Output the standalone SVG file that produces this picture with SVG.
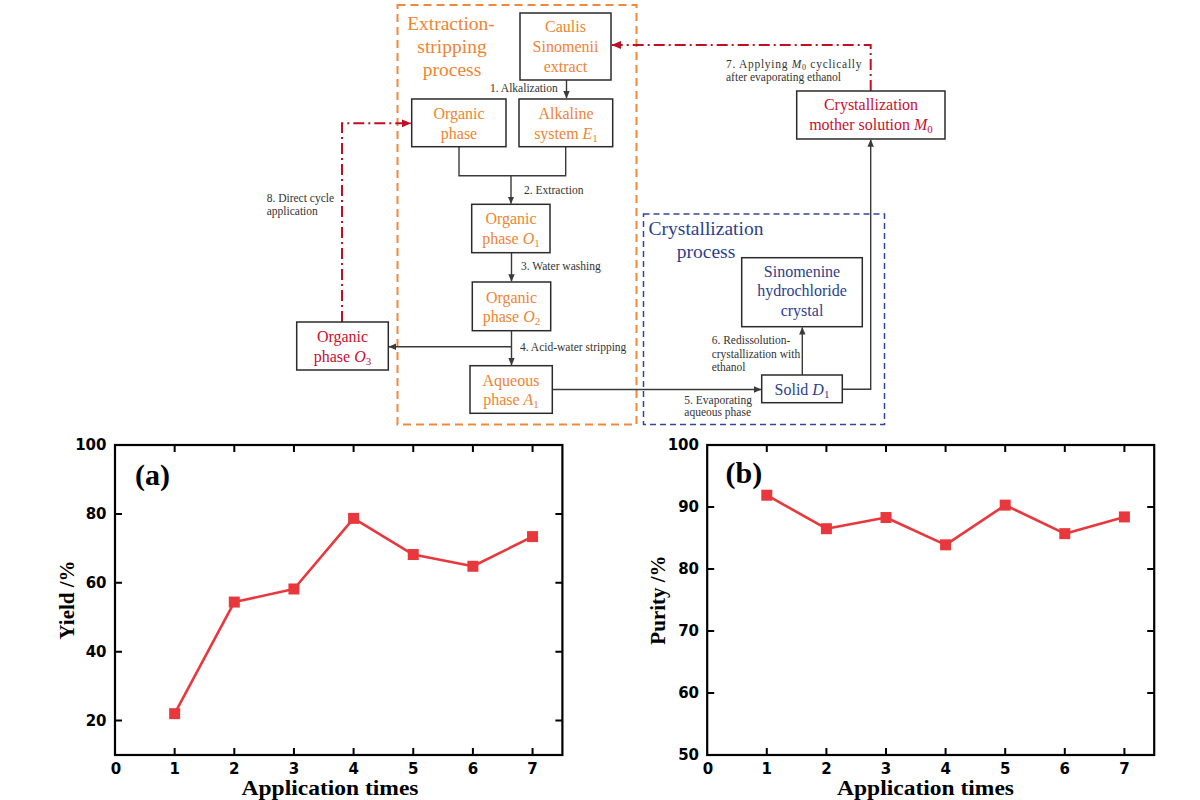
<svg xmlns="http://www.w3.org/2000/svg" width="1200" height="800" viewBox="0 0 1200 800">
<defs>
<style>
.box{fill:#fff;stroke:#2b2b2b;stroke-width:1.5}
.tx{font-family:"Liberation Serif","Times New Roman",serif;font-size:16px;text-anchor:middle}
.or{fill:#ee8433}
.rd{fill:#c8102e}
.bl{fill:#2c3f8c}
.lb{font-family:"Liberation Serif","Times New Roman",serif;font-size:11.5px;fill:#333}
.ttl{font-family:"Liberation Serif","Times New Roman",serif;font-size:19.5px;text-anchor:middle}
.cn{fill:none;stroke:#3a3a3a;stroke-width:1.4}
.rdl{fill:none;stroke:#c00f23;stroke-width:2;stroke-dasharray:11 4 2 4}
.frame{fill:none;stroke:#000;stroke-width:2.2}
.tick{fill:none;stroke:#000;stroke-width:2}
.num{font-family:"DejaVu Sans",Verdana,sans-serif;font-weight:bold;font-size:15px;fill:#000}
.axl{font-family:"Liberation Serif","Times New Roman",serif;font-weight:bold;font-size:21px;fill:#000;text-anchor:middle}
.pl{fill:none;stroke:#e8383d;stroke-width:2.6;stroke-linejoin:round}
.mk{fill:#e8383d}
</style>
<marker id="ah" markerWidth="8" markerHeight="8" refX="7" refY="4" orient="auto" markerUnits="userSpaceOnUse">
<path d="M0,0.8 L7.5,4 L0,7.2 Z" fill="#3a3a3a"/>
</marker>
<marker id="ahr" markerWidth="10" markerHeight="10" refX="9" refY="5" orient="auto" markerUnits="userSpaceOnUse">
<path d="M0,1 L9.5,5 L0,9 Z" fill="#c00f23"/>
</marker>
</defs>
<rect width="1200" height="800" fill="#fff"/>

<!-- process frames -->
<g id="extraction-frame">
<rect x="397.5" y="5" width="239" height="419.5" fill="none" stroke="#ef8a3c" stroke-width="2" stroke-dasharray="8 5"/>
<text class="ttl or" x="451"><tspan x="451" y="30">Extraction-</tspan><tspan x="452" y="53">stripping</tspan><tspan x="452" y="76">process</tspan></text>
</g>
<g id="crystallization-frame">
<rect x="643.5" y="214" width="241" height="210.5" fill="none" stroke="#34449a" stroke-width="1.5" stroke-dasharray="6 4"/>
<text class="ttl bl" x="706"><tspan x="706" y="235">Crystallization</tspan><tspan x="706" y="258">process</tspan></text>
</g>

<!-- connectors -->
<g id="connectors">
<path class="cn" d="M566.5,80 V98" marker-end="url(#ah)"/>
<path class="cn" d="M459,146.7 V175.7 H565.7 V146.7"/>
<path class="cn" d="M511,175.7 V203.5" marker-end="url(#ah)"/>
<path class="cn" d="M511.5,252.7 V281.2" marker-end="url(#ah)"/>
<path class="cn" d="M511.5,330.7 V365" marker-end="url(#ah)"/>
<path class="cn" d="M511.5,346.7 H389" marker-end="url(#ah)"/>
<path class="cn" d="M552.3,389.5 H761" marker-end="url(#ah)"/>
<path class="cn" d="M802.3,375 V327.5" marker-end="url(#ah)"/>
<path class="cn" d="M842.3,389.3 H870.7 V139.8" marker-end="url(#ah)"/>
<path class="rdl" d="M870.7,91 V45 H612" marker-end="url(#ahr)"/>
<path class="rdl" d="M342,322 V123.3 H410.8" marker-end="url(#ahr)"/>
<text class="lb" x="490" y="92">1. Alkalization</text>
<text class="lb" x="524" y="194">2. Extraction</text>
<text class="lb" x="521" y="270">3. Water washing</text>
<text class="lb" x="520" y="351">4. Acid-water stripping</text>
<text class="lb"><tspan x="684.3" y="403.5">5. Evaporating</tspan><tspan x="684.3" y="416">aqueous phase</tspan></text>
<text class="lb"><tspan x="711.7" y="344">6. Redissolution-</tspan><tspan x="711.7" y="357.5">crystallization with</tspan><tspan x="711.7" y="371">ethanol</tspan></text>
<text class="lb"><tspan x="726" y="67.5" textLength="135.5" lengthAdjust="spacing">7. Applying <tspan font-style="italic">M</tspan><tspan font-size="8" dy="2.5">0</tspan><tspan dy="-2.5"> cyclically</tspan></tspan><tspan x="726" y="81">after evaporating ethanol</tspan></text>
<text class="lb"><tspan x="266.7" y="202">8. Direct cycle</tspan><tspan x="266.7" y="214.5">application</tspan></text>
</g>

<!-- nodes -->
<g id="caulis">
<rect class="box" x="520" y="13" width="91" height="67"/>
<text class="tx or"><tspan x="565.5" y="32">Caulis</tspan><tspan x="565.5" y="52">Sinomenii</tspan><tspan x="565.5" y="72">extract</tspan></text>
</g>
<g id="organic-phase">
<rect class="box" x="411.7" y="99" width="94.3" height="47.7"/>
<text class="tx or"><tspan x="459" y="119">Organic</tspan><tspan x="459" y="138.5">phase</tspan></text>
</g>
<g id="alkaline">
<rect class="box" x="519" y="99" width="93.7" height="47.7"/>
<text class="tx or"><tspan x="566" y="119">Alkaline</tspan><tspan x="566" y="138.5">system <tspan font-style="italic">E</tspan><tspan font-size="11" dy="3">1</tspan></tspan></text>
</g>
<g id="organic-o1">
<rect class="box" x="471.7" y="204.3" width="78.3" height="48.4"/>
<text class="tx or"><tspan x="511" y="224">Organic</tspan><tspan x="511" y="244">phase <tspan font-style="italic">O</tspan><tspan font-size="11" dy="3">1</tspan></tspan></text>
</g>
<g id="organic-o2">
<rect class="box" x="472.3" y="282" width="78.4" height="48.7"/>
<text class="tx or"><tspan x="511.5" y="302.5">Organic</tspan><tspan x="511.5" y="322">phase <tspan font-style="italic">O</tspan><tspan font-size="11" dy="3">2</tspan></tspan></text>
</g>
<g id="aqueous-a1">
<rect class="box" x="470" y="365.7" width="82.3" height="47.6"/>
<text class="tx or"><tspan x="511" y="385.5">Aqueous</tspan><tspan x="511" y="405">phase <tspan font-style="italic">A</tspan><tspan font-size="11" dy="3">1</tspan></tspan></text>
</g>
<g id="organic-o3">
<rect class="box" x="296.7" y="322" width="91.6" height="48"/>
<text class="tx rd"><tspan x="342.5" y="342">Organic</tspan><tspan x="342.5" y="362">phase <tspan font-style="italic">O</tspan><tspan font-size="11" dy="3">3</tspan></tspan></text>
</g>
<g id="solid-d1">
<rect class="box" x="761.7" y="375" width="80.6" height="27.7"/>
<text class="tx bl"><tspan x="802" y="394.5">Solid <tspan font-style="italic">D</tspan><tspan font-size="11" dy="3">1</tspan></tspan></text>
</g>
<g id="sinomenine">
<rect class="box" x="741.7" y="257.7" width="120.6" height="69"/>
<text class="tx bl"><tspan x="802" y="276.5">Sinomenine</tspan><tspan x="802" y="296">hydrochloride</tspan><tspan x="802" y="315.5">crystal</tspan></text>
</g>
<g id="mother-solution">
<rect class="box" x="796.7" y="91" width="148.3" height="48"/>
<text class="tx rd"><tspan x="871" y="109.5">Crystallization</tspan><tspan x="871" y="130">mother solution <tspan font-style="italic">M</tspan><tspan font-size="11" dy="3">0</tspan></tspan></text>
</g>

<!-- chart (a) -->
<g id="chart-a">
<rect class="frame" x="115" y="445" width="447.4" height="310"/>
<path class="tick" d="M115,720.6 h7 M115,651.7 h7 M115,582.8 h7 M115,513.9 h7 M562.4,720.6 h-7 M562.4,651.7 h-7 M562.4,582.8 h-7 M562.4,513.9 h-7 M174.65,445 v7 M234.3,445 v7 M293.95,445 v7 M353.6,445 v7 M413.25,445 v7 M472.9,445 v7 M532.55,445 v7 M174.65,755 v-7 M234.3,755 v-7 M293.95,755 v-7 M353.6,755 v-7 M413.25,755 v-7 M472.9,755 v-7 M532.55,755 v-7"/>
<g class="num" text-anchor="end">
<text x="106.5" y="450">100</text>
<text x="106.5" y="519">80</text>
<text x="106.5" y="588">60</text>
<text x="106.5" y="657">40</text>
<text x="106.5" y="726">20</text>
</g>
<g class="num" text-anchor="middle">
<text x="116" y="774">0</text>
<text x="174.65" y="774">1</text>
<text x="234.3" y="774">2</text>
<text x="293.95" y="774">3</text>
<text x="353.6" y="774">4</text>
<text x="413.25" y="774">5</text>
<text x="472.9" y="774">6</text>
<text x="532.55" y="774">7</text>
</g>
<text class="axl" x="330" y="795" textLength="177" lengthAdjust="spacingAndGlyphs">Application times</text>
<text class="axl" transform="translate(74,600) rotate(-90)">Yield /%</text>
<text x="135" y="485" font-family="Liberation Serif, Times New Roman, serif" font-weight="bold" font-size="30">(a)</text>
<polyline class="pl" points="174.65,713.67 234.3,602.07 293.95,588.98 353.6,518.37 413.25,554.53 472.9,566.27 532.55,536.62"/>
<g class="mk">
<rect x="169.15" y="708.17" width="11" height="11"/>
<rect x="228.8" y="596.57" width="11" height="11"/>
<rect x="288.45" y="583.48" width="11" height="11"/>
<rect x="348.1" y="512.87" width="11" height="11"/>
<rect x="407.75" y="549.03" width="11" height="11"/>
<rect x="467.4" y="560.77" width="11" height="11"/>
<rect x="527.05" y="531.12" width="11" height="11"/>
</g>
</g>

<!-- chart (b) -->
<g id="chart-b">
<rect class="frame" x="707.2" y="445" width="447" height="310"/>
<path class="tick" d="M707.2,693 h7 M707.2,631 h7 M707.2,569 h7 M707.2,507 h7 M1154.2,693 h-7 M1154.2,631 h-7 M1154.2,569 h-7 M1154.2,507 h-7 M766.8,445 v7 M826.4,445 v7 M886,445 v7 M945.6,445 v7 M1005.2,445 v7 M1064.8,445 v7 M1124.4,445 v7 M766.8,755 v-7 M826.4,755 v-7 M886,755 v-7 M945.6,755 v-7 M1005.2,755 v-7 M1064.8,755 v-7 M1124.4,755 v-7"/>
<g class="num" text-anchor="end">
<text x="699" y="450">100</text>
<text x="699" y="512">90</text>
<text x="699" y="574">80</text>
<text x="699" y="636">70</text>
<text x="699" y="698">60</text>
<text x="699" y="760">50</text>
</g>
<g class="num" text-anchor="middle">
<text x="708" y="774">0</text>
<text x="766.8" y="774">1</text>
<text x="826.4" y="774">2</text>
<text x="886" y="774">3</text>
<text x="945.6" y="774">4</text>
<text x="1005.2" y="774">5</text>
<text x="1064.8" y="774">6</text>
<text x="1124.4" y="774">7</text>
</g>
<text class="axl" x="925.5" y="795" textLength="177" lengthAdjust="spacingAndGlyphs">Application times</text>
<text class="axl" transform="translate(665,600) rotate(-90)">Purity /%</text>
<text x="725.5" y="483" font-family="Liberation Serif, Times New Roman, serif" font-weight="bold" font-size="30">(b)</text>
<polyline class="pl" points="766.8,495.22 826.4,528.7 886,517.54 945.6,544.82 1005.2,505.14 1064.8,533.66 1124.4,516.92"/>
<g class="mk">
<rect x="761.3" y="489.72" width="11" height="11"/>
<rect x="820.9" y="523.2" width="11" height="11"/>
<rect x="880.5" y="512.04" width="11" height="11"/>
<rect x="940.1" y="539.32" width="11" height="11"/>
<rect x="999.7" y="499.64" width="11" height="11"/>
<rect x="1059.3" y="528.16" width="11" height="11"/>
<rect x="1118.9" y="511.42" width="11" height="11"/>
</g>
</g>
</svg>
